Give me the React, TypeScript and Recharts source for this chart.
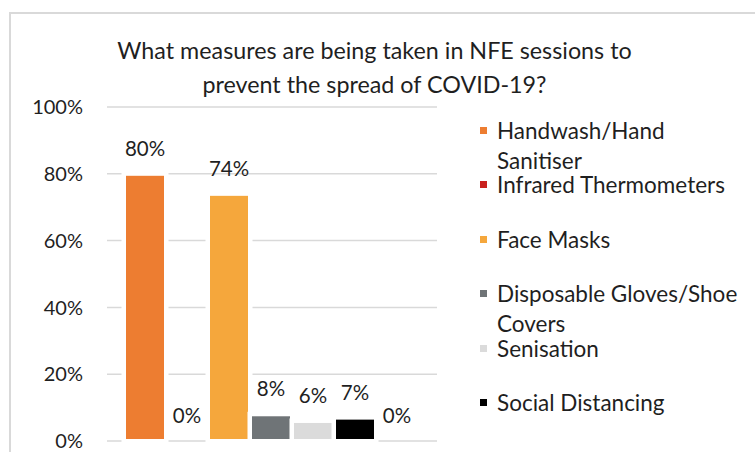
import React from "react";
import { BarChart, Bar, XAxis, YAxis, CartesianGrid, Legend, LabelList } from "recharts";

const titleLines = ["What measures are being taken in NFE sessions to", "prevent the spread of COVID-19?"];

const seriesNames = [
  "Handwash/Hand Sanitiser",
  "Infrared Thermometers",
  "Face Masks",
  "Disposable Gloves/Shoe Covers",
  "Senisation",
  "Social Distancing",
  "Other",
];
const seriesValues = [80, 0, 74, 8, 6, 7, 0];
const seriesColors = ["#ED7D31", "#C9211E", "#F5A73C", "#6F7477", "#DBDBDB", "#000000", "#A5A5A5"];
// last series has no legend entry
const seriesInLegend = [true, true, true, true, true, true, false];

const yTicks = [0, 20, 40, 60, 80, 100];

const FONT = "Lato, 'Open Sans', sans-serif";
const TEXT = "#1f1f1f";

// one category row, one key per series
const chartData = [
  seriesValues.reduce<Record<string, number | string>>(
    (row, v, i) => {
      row[`s${i}`] = v;
      return row;
    },
    { name: "measures" }
  ),
];

// bar with a white halo that knocks out the gridlines behind it
function HaloBar(props: any) {
  const { x, y, width, height, fill } = props;
  if (!height || height <= 0) return <g />;
  return (
    <g>
      <rect x={x - 2.5} y={y - 2.5} width={width + 5} height={height + 5} fill="#fff" />
      <rect x={x + 2} y={y + 2} width={width - 4} height={height - 4} fill={fill} />
    </g>
  );
}

function LegendList({ payload }: { payload?: Array<{ value: string; color: string; type?: string }> }) {
  if (!payload) return null;
  // keep series order, drop hidden entries
  const items = payload
    .filter((p) => p.type !== "none" && seriesInLegend[seriesNames.indexOf(p.value)])
    .sort((a, b) => seriesNames.indexOf(a.value) - seriesNames.indexOf(b.value));
  return (
    <div style={{ position: "relative", fontFamily: FONT, fontSize: 22.5, color: TEXT }}>
      {items.map((item, i) => (
        <div
          key={item.value}
          style={{ position: "absolute", top: i * 54.4, left: 0, width: 270, lineHeight: "29.5px" }}
        >
          <span
            style={{
              position: "absolute",
              left: 2,
              top: 11,
              width: 7,
              height: 7,
              background: item.color,
            }}
          />
          <div style={{ marginLeft: 19, width: 246 }}>{item.value}</div>
        </div>
      ))}
    </div>
  );
}

export default function App() {
  return (
    <div
      style={{
        position: "relative",
        width: 755,
        height: 452,
        overflow: "hidden",
        background: "#fff",
        fontFamily: FONT,
      }}
    >
      <style>{`body{margin:0}`}</style>
      <div
        style={{
          position: "absolute",
          left: 9,
          top: 12,
          width: 800,
          height: 500,
          border: "2px solid #D9D9D9",
        }}
      />
      <div
        style={{
          position: "absolute",
          left: 0,
          top: 33,
          width: 749,
          textAlign: "center",
          fontSize: 23.3,
          lineHeight: "34px",
          color: TEXT,
        }}
      >
        {titleLines.map((l) => (
          <div key={l}>{l}</div>
        ))}
      </div>
      <div style={{ position: "absolute", left: 0, top: 0 }}>
        <BarChart
          width={755}
          height={452}
          data={chartData}
          margin={{ top: 107, right: 48, bottom: 11, left: 0 }}
          barCategoryGap={17}
          barGap={0}
        >
          <CartesianGrid vertical={false} stroke="#D9D9D9" strokeWidth={1.5} />
          <XAxis dataKey="name" hide />
          <YAxis
            domain={[0, 100]}
            ticks={yTicks}
            interval={0}
            tickFormatter={(v: number) => `${v}%`}
            axisLine={false}
            tickLine={false}
            tickSize={0}
            tickMargin={24}
            width={107}
            tick={{ fill: TEXT, fontSize: 20, fontFamily: FONT }}
          />
          <Legend
            layout="vertical"
            align="right"
            verticalAlign="top"
            wrapperStyle={{ left: 478, top: 116, width: 270, height: 320 }}
            content={<LegendList />}
          />
          {seriesNames.map((name, i) => (
            <Bar
              key={name}
              dataKey={`s${i}`}
              name={name}
              fill={seriesColors[i]}
              legendType={seriesInLegend[i] ? "square" : "none"}
              shape={<HaloBar />}
              isAnimationActive={false}
            >
              <LabelList
                dataKey={`s${i}`}
                position="top"
                offset={18}
                formatter={(v: any) => `${v}%`}
                style={{ fill: TEXT, fontSize: 20.5, fontFamily: FONT }}
              />
            </Bar>
          ))}
        </BarChart>
      </div>
    </div>
  );
}
